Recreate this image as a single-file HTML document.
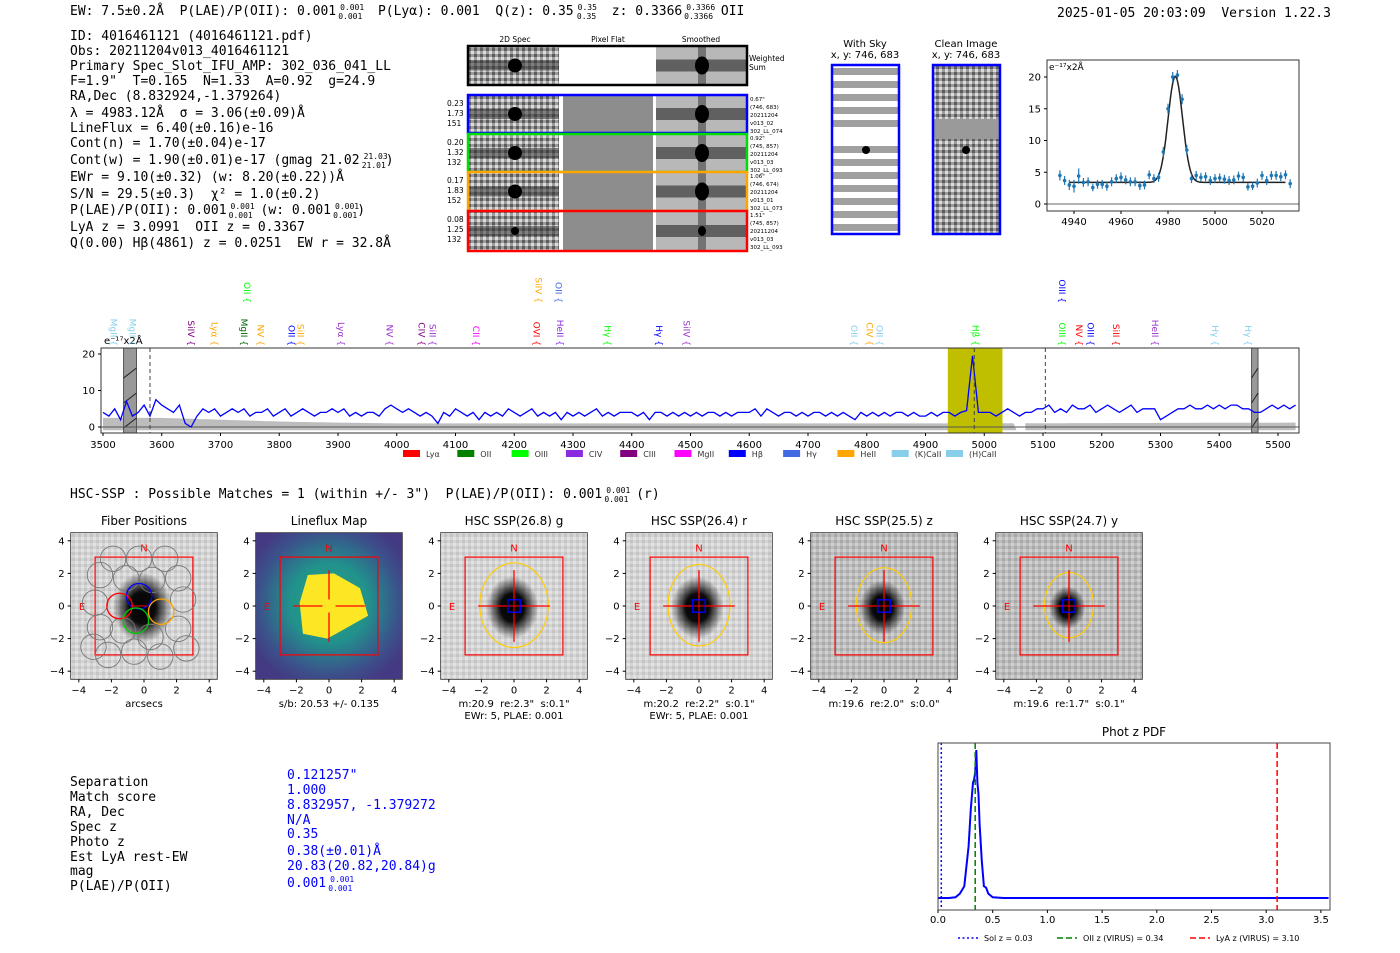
<!DOCTYPE html>
<html><head><meta charset="utf-8">
<style>
html,body{margin:0;padding:0;background:#fff;}
svg{display:block;}
text{white-space:pre;}
.m{font-family:"DejaVu Sans Mono","Liberation Mono",monospace;font-size:13px;fill:#000;}
.s{font-family:"DejaVu Sans","Liberation Sans",sans-serif;}
</style></head>
<body>
<svg id="fig" width="1400" height="953" viewBox="0 0 1400 953" xmlns="http://www.w3.org/2000/svg">
<defs>
<radialGradient id="blob" cx="50%" cy="50%" r="50%"><stop offset="0" stop-color="#000"/><stop offset="0.45" stop-color="#000" stop-opacity="0.95"/><stop offset="1" stop-color="#000" stop-opacity="0"/></radialGradient>
<radialGradient id="lfm" cx="50%" cy="48%" r="60%"><stop offset="0" stop-color="#2fa57f"/><stop offset="0.45" stop-color="#21918c"/><stop offset="0.8" stop-color="#3b528b"/><stop offset="1" stop-color="#443a83"/></radialGradient>
<pattern id="noise" width="6" height="6" patternUnits="userSpaceOnUse"><rect width="6" height="6" fill="#d4d4d4"/><rect x="0" y="0" width="3" height="3" fill="#c4c4c4"/><rect x="3" y="3" width="3" height="3" fill="#e2e2e2"/></pattern>
<pattern id="noise2" width="6" height="6" patternUnits="userSpaceOnUse"><rect width="6" height="6" fill="#bdbdbd"/><rect x="0" y="0" width="3" height="3" fill="#a8a8a8"/><rect x="3" y="3" width="3" height="3" fill="#d0d0d0"/></pattern>
<pattern id="spn" width="6" height="6" patternUnits="userSpaceOnUse"><rect width="6" height="6" fill="#9c9c9c"/><rect x="0" y="0" width="3" height="3" fill="#5c5c5c"/><rect x="3" y="3" width="3" height="3" fill="#dcdcdc"/></pattern>
</defs>

<text class="m" x="70" y="15">EW: 7.5±0.2Å  P(LAE)/P(OII): 0.001<tspan font-size="8" dx="4" dy="-5">0.001</tspan><tspan font-size="8" dx="-26" dy="9">0.001</tspan><tspan dy="-4">  P(Lyα): 0.001  Q(z): 0.35</tspan><tspan font-size="8" dx="4" dy="-5">0.35</tspan><tspan font-size="8" dx="-20" dy="9">0.35</tspan><tspan dy="-4">  z: 0.3366</tspan><tspan font-size="8" dx="4" dy="-5">0.3366</tspan><tspan font-size="8" dx="-31" dy="9">0.3366</tspan><tspan dy="-4"> OII</tspan></text>
<text class="m" x="1057" y="17">2025-01-05 20:03:09  Version 1.22.3</text>

<g class="m">
<text x="70" y="40">ID: 4016461121 (4016461121.pdf)</text>
<text x="70" y="55">Obs: 20211204v013_4016461121</text>
<text x="70" y="70">Primary Spec_Slot_IFU_AMP: 302_036_041_LL</text>
<text x="70" y="85">F=1.9"  T=0.165  N=1.33  A=0.92  g=24.9</text>
<text x="70" y="100">RA,Dec (8.832924,-1.379264)</text>
<text x="70" y="117">λ = 4983.12Å  σ = 3.06(±0.09)Å</text>
<text x="70" y="132">LineFlux = 6.40(±0.16)e-16</text>
<text x="70" y="147">Cont(n) = 1.70(±0.04)e-17</text>
<text x="70" y="164">Cont(w) = 1.90(±0.01)e-17 (gmag 21.02<tspan font-size="8" dx="4" dy="-5">21.03</tspan><tspan font-size="8" dx="-26" dy="9">21.01</tspan><tspan dy="-4">)</tspan></text>
<text x="70" y="181">EWr = 9.10(±0.32) (w: 8.20(±0.22))Å</text>
<text x="70" y="198">S/N = 29.5(±0.3)  χ² = 1.0(±0.2)</text>
<text x="70" y="214">P(LAE)/P(OII): 0.001<tspan font-size="8" dx="4" dy="-5">0.001</tspan><tspan font-size="8" dx="-26" dy="9">0.001</tspan><tspan dy="-4"> (w: 0.001</tspan><tspan font-size="8" dx="4" dy="-5">0.001</tspan><tspan font-size="8" dx="-26" dy="9">0.001</tspan><tspan dy="-4">)</tspan></text>
<text x="70" y="231">LyA z = 3.0991  OII z = 0.3367</text>
<text x="70" y="247">Q(0.00) Hβ(4861) z = 0.0251  EW r = 32.8Å</text>
</g>

<g id="spec2d" class="s">
<text x="515" y="42" font-size="7.5" text-anchor="middle">2D Spec</text>
<text x="608" y="42" font-size="7.5" text-anchor="middle">Pixel Flat</text>
<text x="701" y="42" font-size="7.5" text-anchor="middle">Smoothed</text>
<text x="749" y="61" font-size="7.5">Weighted</text>
<text x="749" y="70" font-size="7.5">Sum</text>
</g>

<g class="s" font-size="10" text-anchor="middle">
<text x="865" y="47">With Sky</text><text x="865" y="58">x, y: 746, 683</text>
<text x="966" y="47">Clean Image</text><text x="966" y="58">x, y: 746, 683</text>
</g>
<g id="withsky"></g>
<g id="clean"></g>

<g id="fit" class="s"></g>
<g id="spec" class="s"></g>

<text class="m" x="70" y="498">HSC-SSP : Possible Matches = 1 (within +/- 3")  P(LAE)/P(OII): 0.001<tspan font-size="8" dx="4" dy="-5">0.001</tspan><tspan font-size="8" dx="-26" dy="9">0.001</tspan><tspan dy="-4"> (r)</tspan></text>

<g id="cut" class="s"></g>

<g class="m">
<text x="70" y="786">Separation</text><text x="70" y="801">Match score</text><text x="70" y="816">RA, Dec</text>
<text x="70" y="831">Spec z</text><text x="70" y="846">Photo z</text><text x="70" y="861">Est LyA rest-EW</text>
<text x="70" y="875">mag</text><text x="70" y="890">P(LAE)/P(OII)</text>
</g>
<g class="m">
<text x="287" y="779" style="fill:#00f">0.121257"</text><text x="287" y="794" style="fill:#00f">1.000</text>
<text x="287" y="809" style="fill:#00f">8.832957, -1.379272</text><text x="287" y="824" style="fill:#00f">N/A</text>
<text x="287" y="838" style="fill:#00f">0.35</text><text x="287" y="855" style="fill:#00f">0.38(±0.01)Å</text>
<text x="287" y="870" style="fill:#00f">20.83(20.82,20.84)g</text>
<text x="287" y="887" style="fill:#00f">0.001<tspan font-size="8" dx="4" dy="-5">0.001</tspan><tspan font-size="8" dx="-26" dy="9">0.001</tspan></text>
</g>

<g id="pdf" class="s"></g>
</svg>

<script>
// ---------- data ----------
const specStart = 3500, specStep = 10;
const specFlux = [4,3,5,2,7,3,4,6,3,7.5, 6,5,4,6,1,0,3,5,4,5, 3,4,5,4,5,3,4,4,5,3, 4,5,3,4,5,4,3,4,4,5,
 4,5,3,4,3,4,4,3,5,6, 5,4,5,4,3,4,3,1,4,3, 5,4,3,4,2,4,3,4,3,5, 4,3,4,5,3,4,3,4,2,4,
 3,4,3,4,5,3,4,3,4,4, 4,3,4,2,4,4,3,4,3,4, 3,4,3,4,4,3,4,3,4,4, 4,5,3,5,4,3,4,4,3,4,
 3,4,4,3,4,3,4,3,2,4, 3,4,3,4,3,4,4,3,4,3, 3,4,3,4,4,3,4,4.5,19.5,4, 4,4,3,4,5,4,3,4,4,5,
 5,6,4,5,4,6,5,5,6,4, 5,6,5,4,5,6,4,5,5,5, 2,3,4,5,5,6,5,5,6,5, 6,5,6,6,5,5,4,4,5,6, 5,6,5,6];
const noiseWave = [3500,3600,3700,3800,3900,4000,4500,5000,5530];
const noiseUpper = [2.5,2.5,2.0,1.5,1.2,1.0,1.0,1.0,1.2];
const specXTicks = [3500,3600,3700,3800,3900,4000,4100,4200,4300,4400,4500,4600,4700,4800,4900,5000,5100,5200,5300,5400,5500];
const specYTicks = [0,10,20];
const lineNames = ["MgII","MgII","SiIV","Lyα","MgII","OII","NV","OII","SiII","Lyα","NV","CIV","SiII","CII","OVI","SiIV","OII","HeII","Hγ","Hγ","SiIV","OII","CIV","OII","Hβ","OIII","OIII","NV","OIII","SiII","HeII","Hγ","Hγ"];
const lineWaves = [3518,3550,3650,3690,3740,3745,3768,3821,3836,3905,3988,4042,4061,4135,4238,4241,4275,4278,4359,4446,4493,4778,4805,4822,4985,5132,5132,5161,5181,5224,5291,5393,5449];
const lineColors = ["#87ceeb","#87ceeb","#800080","#ffa500","#006400","#00ff00","#ffa500","#0000ff","#ffa500","#9932cc","#9932cc","#800080","#9932cc","#ff00ff","#ff0000","#ffa500","#4169e1","#8a2be2","#00ff00","#0000ff","#9932cc","#87ceeb","#ffa500","#87ceeb","#00ff00","#00ff00","#0000ff","#ff0000","#0000ff","#ff0000","#9932cc","#87ceeb","#87ceeb"];
const lineUpper = [0,0,0,0,0,1,0,0,0,0,0,0,0,0,0,1,1,0,0,0,0,0,0,0,0,0,1,0,0,0,0,0,0];
const legendNames = ["Lyα","OII","OIII","CIV","CIII","MgII","Hβ","Hγ","HeII","(K)CaII","(H)CaII"];
const legendColors = ["#ff0000","#008000","#00ff00","#8a2be2","#800080","#ff00ff","#0000ff","#4169e1","#ffa500","#87ceeb","#87ceeb"];

const fitWave = [4934,4936,4938,4940,4942,4944,4946,4948,4950,4952,4954,4956,4958,4960,4962,4964,4966,4968,4970,4972,4974,4976,4978,4980,4982,4984,4986,4988,4990,4992,4994,4996,4998,5000,5002,5004,5006,5008,5010,5012,5014,5016,5018,5020,5022,5024,5026,5028,5030,5032];
const fitFlux = [4.5,3.7,3.0,2.8,4.4,3.4,3.5,2.6,3.1,3.1,2.8,3.5,4.0,4.2,3.8,3.5,3.5,2.9,3.0,4.6,4.0,4.2,8.2,15,20,20.3,16.5,8.5,4.0,4.5,4.2,4.3,3.7,4.0,4.1,3.9,3.7,3.8,4.4,4.2,2.7,2.8,3.3,4.5,3.7,4.5,4.5,4.3,4.6,3.2];
const fitErr = [0.8,0.7,0.8,1.0,1.2,0.7,0.7,0.6,0.7,0.7,0.7,0.7,0.7,0.8,0.7,0.7,0.7,0.7,0.7,0.7,0.7,0.7,0.8,0.8,0.8,0.8,0.8,0.8,0.7,0.7,0.7,0.7,0.7,0.7,0.7,0.7,0.7,0.7,0.7,0.7,0.6,0.6,0.7,0.7,0.7,0.7,0.7,0.7,0.7,0.7];
const fitParams = [4983.12, 3.06, 16.7, 3.4];
const fitXTicks = [4940,4960,4980,5000,5020];
const fitYTicks = [0,5,10,15,20];

const pdfZ = [0,0.1,0.16,0.2,0.24,0.28,0.3,0.32,0.33,0.34,0.35,0.36,0.37,0.38,0.4,0.42,0.44,0.46,0.5,0.6,1.0,2.0,3.0,3.6];
const pdfP = [0,0,0.005,0.03,0.08,0.35,0.6,0.78,0.8,0.85,1.0,0.78,0.7,0.5,0.25,0.08,0.07,0.03,0.005,0,0,0,0,0];
const pdfXTicks = [0.0,0.5,1.0,1.5,2.0,2.5,3.0,3.5];
const pdfMarkerZ = [0.03,0.34,3.10];
const pdfMarkerNames = ["Sol z = 0.03","OII z (VIRUS) = 0.34","LyA z (VIRUS) = 3.10"];

const cutTitles = ["Fiber Positions","Lineflux Map","HSC SSP(26.8) g","HSC SSP(26.4) r","HSC SSP(25.5) z","HSC SSP(24.7) y"];
const cutCaption1 = ["arcsecs","s/b: 20.53 +/- 0.135","m:20.9  re:2.3\"  s:0.1\"","m:20.2  re:2.2\"  s:0.1\"","m:19.6  re:2.0\"  s:0.0\"","m:19.6  re:1.7\"  s:0.1\""];
const cutCaption2 = ["","","EWr: 5, PLAE: 0.001","EWr: 5, PLAE: 0.001","",""];
const ellRx = [0,0,2.1,1.9,1.7,1.5];
const ellRy = [0,0,2.6,2.5,2.3,2.0];
const blobR = [1.8,0,1.6,1.6,1.4,1.1];
const cutTicks = [-4,-2,0,2,4];

const NS = "http://www.w3.org/2000/svg";
function mk(tag, attrs, parent){const e=document.createElementNS(NS,tag);for(const k in attrs)e.setAttribute(k,attrs[k]);parent.appendChild(e);return e;}
function txt(s, attrs, parent){const e=mk("text",attrs,parent);e.textContent=s;return e;}

(function(){
 const g=document.getElementById("spec2d");
 const rows=[{y:46,h:39,c:"#000",flat:"#fff"},{y:95,h:38,c:"#0000ff",flat:"#8d8d8d"},{y:134,h:38,c:"#00dd00",flat:"#8d8d8d"},{y:172,h:39,c:"#ffa500",flat:"#8d8d8d"},{y:211,h:40,c:"#ff0000",flat:"#8d8d8d"}];
 const lab=[[],["0.23","1.73","151"],["0.20","1.32","132"],["0.17","1.83","152"],["0.08","1.25","132"]];
 const rt=[[],["0.67\"","(746, 683)","20211204","v013_02","302_LL_074"],["0.92\"","(745, 857)","20211204","v013_03","302_LL_093"],["1.06\"","(746, 674)","20211204","v013_01","302_LL_073"],["1.51\"","(745, 857)","20211204","v013_03","302_LL_093"]];
 rows.forEach((r,i)=>{
  const a=mk("rect",{x:469,y:r.y,width:90,height:r.h,fill:"url(#spn)"},g);
  
  mk("rect",{x:469,y:r.y+r.h/2-5,width:90,height:10,fill:"#333",opacity:0.55},g);
  mk("circle",{cx:515,cy:r.y+r.h/2,r:i==4?4:7,fill:"#000"},g);
  const f=mk("rect",{x:563,y:r.y,width:90,height:r.h,fill:r.flat},g);
  
  const s=mk("rect",{x:656,y:r.y,width:90,height:r.h,fill:"#b8b8b8"},g);
  
  mk("rect",{x:656,y:r.y+r.h/2-6,width:90,height:12,fill:"#4a4a4a",opacity:0.8},g);
  mk("rect",{x:698,y:r.y,width:8,height:r.h,fill:"#555",opacity:0.7},g);
  mk("ellipse",{cx:702,cy:r.y+r.h/2,rx:i==4?4:7,ry:i==4?5:9,fill:"#000"},g);
  const b=mk("rect",{x:468,y:r.y,width:279,height:r.h,fill:"none",stroke:r.c,"stroke-width":2.5},g);
  
  lab[i].forEach((t,j)=>txt(t,{x:447,y:r.y+11+j*10,"font-size":7.5},g));
  rt[i].forEach((t,j)=>txt(t,{x:750,y:r.y+6+j*8,"font-size":5.5},g));
 });
})();

(function(){
 const w=document.getElementById("withsky");
 mk("rect",{x:832,y:65,width:67,height:169,fill:"#fff"},w);
 for(let k=0;k<13;k++){ if(k==5) continue; mk("rect",{x:832,y:68+k*13,width:67,height:7,fill:"#a0a0a0"},w); }
 mk("circle",{cx:866,cy:150,r:4,fill:"#000"},w);
 mk("rect",{x:832,y:65,width:67,height:169,fill:"none",stroke:"#0000ff","stroke-width":2.5},w);
 const c=document.getElementById("clean");
 mk("rect",{x:933,y:65,width:67,height:169,fill:"url(#spn)"},c);
 mk("rect",{x:933,y:119,width:67,height:20,fill:"#9a9a9a"},c);
 mk("circle",{cx:966,cy:150,r:4,fill:"#000"},c);
 mk("rect",{x:933,y:65,width:67,height:169,fill:"none",stroke:"#0000ff","stroke-width":2.5},c);
})();

(function(){
 const g=document.getElementById("fit");
 const L=1047,R=1299,T=60,B=211;
 const X=w=>1074+(w-4940)*2.35, Y=v=>204-v*6.35;
 mk("line",{x1:L,x2:R,y1:Y(0),y2:Y(0),stroke:"#666","stroke-width":1},g);
 let d="";
 for(let w=4938;w<=5030;w+=0.5){const v=fitParams[3]+fitParams[2]*Math.exp(-0.5*Math.pow((w-fitParams[0])/fitParams[1],2));d+=(d?"L":"M")+X(w).toFixed(1)+","+Y(v).toFixed(1);}
 const fl=mk("path",{d:d,fill:"none",stroke:"#222","stroke-width":1.5},g);
 
 fitWave.forEach((w,i)=>{
  mk("line",{x1:X(w),x2:X(w),y1:Y(fitFlux[i]-fitErr[i]),y2:Y(fitFlux[i]+fitErr[i]),stroke:"#1f77b4","stroke-width":1.2},g);
  const p=mk("circle",{cx:X(w),cy:Y(fitFlux[i]),r:1.8,fill:"#1f77b4"},g);
  
 });
 mk("rect",{x:L,y:T,width:R-L,height:B-T,fill:"none",stroke:"#333","stroke-width":1},g);
 fitXTicks.forEach(t=>{mk("line",{x1:X(t),x2:X(t),y1:B,y2:B+3,stroke:"#000"},g);txt(String(t),{x:X(t),y:B+14,"font-size":10,"text-anchor":"middle"},g);});
 fitYTicks.forEach(t=>{mk("line",{x1:L-3,x2:L,y1:Y(t),y2:Y(t),stroke:"#000"},g);txt(String(t),{x:L-6,y:Y(t)+3.5,"font-size":10,"text-anchor":"end"},g);});
 txt("e⁻¹⁷x2Å",{x:L+2,y:T+10,"font-size":9},g);
})();

(function(){
 const g=document.getElementById("spec");
 const L=101,R=1299,T=348,B=433;
 const X=w=>101+(w-3496.6)*0.5875, Y=v=>427-v*3.65;
 function nu(w){for(let i=0;i<noiseWave.length-1;i++){if(w<=noiseWave[i+1]){const f=(w-noiseWave[i])/(noiseWave[i+1]-noiseWave[i]);return noiseUpper[i]+f*(noiseUpper[i+1]-noiseUpper[i]);}}return noiseUpper[noiseUpper.length-1];}
 const segs=[[3500,5055],[5070,5530]];
 segs.forEach(s=>{let p="M"+X(s[0])+","+Y(-0.9);for(let w=s[0];w<=s[1];w+=10)p+="L"+X(w).toFixed(1)+","+Y(nu(w)).toFixed(1);p+="L"+X(s[1])+","+Y(-0.9)+"Z";
  const n=mk("path",{d:p,fill:"#bdbdbd"},g);
  });
 const yb=mk("rect",{x:X(4938),y:T,width:X(5031)-X(4938),height:B-T,fill:"#bfbf00"},g);
 
 [[3535,3557],[5455,5466]].forEach(b=>{const r=mk("rect",{x:X(b[0]),y:T,width:X(b[1])-X(b[0]),height:B-T,fill:"#999",stroke:"#555"},g);
  
  for(let k=0;k<3;k++)mk("line",{x1:X(b[0]),x2:X(b[1]),y1:T+30+k*25,y2:T+20+k*25,stroke:"#222"},g);});
 mk("line",{x1:L,x2:R,y1:Y(0),y2:Y(0),stroke:"#555","stroke-width":1},g);
 let d="";specFlux.forEach((v,i)=>{d+=(i?"L":"M")+X(specStart+i*specStep).toFixed(1)+","+Y(v).toFixed(1);});
 const ln=mk("path",{d:d,fill:"none",stroke:"#0000ff","stroke-width":1.3},g);
 
 [3580,4983,5104].forEach(w=>mk("line",{x1:X(w),x2:X(w),y1:T,y2:B,stroke:"#444","stroke-dasharray":"4,3","stroke-width":1},g));
 mk("rect",{x:L,y:T,width:R-L,height:B-T,fill:"none",stroke:"#333","stroke-width":1},g);
 specXTicks.forEach(t=>{mk("line",{x1:X(t),x2:X(t),y1:B,y2:B+3,stroke:"#000"},g);txt(String(t),{x:X(t),y:B+15,"font-size":10,"text-anchor":"middle"},g);});
 specYTicks.forEach(t=>{mk("line",{x1:L-3,x2:L,y1:Y(t),y2:Y(t),stroke:"#000"},g);txt(String(t),{x:L-6,y:Y(t)+3.5,"font-size":10,"text-anchor":"end"},g);});
 txt("e⁻¹⁷x2Å",{x:L+3,y:T-4,"font-size":10},g);
 lineNames.forEach((n,i)=>{
  const x=X(lineWaves[i]), yb=lineUpper[i]?303:346;
  const t=txt(n+" {",{x:x,y:yb,"font-size":9,fill:lineColors[i],"text-anchor":"end",transform:`rotate(90 ${x} ${yb}) translate(0 3)`},g);
  
 });
 legendNames.forEach((n,i)=>{
  const x=403+i*54.3;
  const r=mk("rect",{x:x,y:450,width:17,height:7,fill:legendColors[i]},g);
  
  const t=txt(n,{x:x+23,y:457,"font-size":8,fill:"#333"},g);
  
 });
})();

(function(){
 const g=document.getElementById("cut");
 const fib=[[-1.9,2.9],[-0.3,2.9],[1.3,2.9],[-2.7,1.9],[-1.1,1.7],[0.5,1.6],[2.1,1.7],[-3.0,0.2],[2.4,0.4],[-2.7,-1.3],[-1.3,-1.5],[0.4,-1.9],[2.1,-1.4],[-2.2,-3.0],[-0.6,-2.8],[1.0,-3.1],[2.6,-2.6],[-3.1,-2.5]];
 const col=[[-0.3,0.6,"#0000ff"],[-1.5,0,"#ff0000"],[-0.5,-0.9,"#00cc00"],[1.05,-0.35,"#ffa500"]];
 cutTitles.forEach((tt,i)=>{
  const cx=144+i*185,cy=606,s=16.3;
  const P=v=>cx+v*s, Q=v=>cy-v*s;
  const pan=mk("g",{},g);
  
  
  if(i==1){
   mk("rect",{x:P(-4.5),y:Q(4.5),width:9*s,height:9*s,fill:"url(#lfm)"},pan);
   mk("polygon",{points:[[-1.3,1.9],[0.3,2.0],[1.9,1.1],[2.4,-0.6],[-0.1,-2.0],[-1.6,-1.7],[-1.8,0.2]].map(p=>P(p[0])+","+Q(p[1])).join(" "),fill:"#fde725"},pan);
  } else {
   mk("rect",{x:P(-4.5),y:Q(4.5),width:9*s,height:9*s,fill:i>=4?"url(#noise2)":"url(#noise)"},pan);
   mk("ellipse",{cx:P(-0.1),cy:Q(-0.1),rx:blobR[i]*s,ry:blobR[i]*1.2*s,fill:"url(#blob)"},pan);
  }
  mk("rect",{x:P(-4.5),y:Q(4.5),width:9*s,height:9*s,fill:"none",stroke:"#333","stroke-width":0.8},pan);
  mk("rect",{x:P(-3),y:Q(3),width:6*s,height:6*s,fill:"none",stroke:"#ff0000","stroke-width":1.2},pan);
  txt("N",{x:P(0),y:Q(3.6)+4,"font-size":10,fill:"#ff0000","text-anchor":"middle"},pan);
  txt("E",{x:P(-3.8),y:Q(0)+4,"font-size":10,fill:"#ff0000","text-anchor":"middle"},pan);
  if(i==0){
   fib.forEach(f=>mk("circle",{cx:P(f[0]),cy:Q(f[1]),r:0.78*s,fill:"none",stroke:"#777","stroke-width":0.9},pan));
   col.forEach(f=>mk("circle",{cx:P(f[0]),cy:Q(f[1]),r:0.78*s,fill:"none",stroke:f[2],"stroke-width":1.3},pan));
   mk("line",{x1:P(-0.8),x2:P(0.2),y1:Q(0),y2:Q(0),stroke:"#ff0000"},pan);
  } else {
   if(i>=2) mk("ellipse",{cx:P(0),cy:Q(0.05),rx:ellRx[i]*s,ry:ellRy[i]*s,fill:"none",stroke:"#ffcc00","stroke-width":1.2},pan);
   mk("line",{x1:P(-2.2),x2:P(-0.4),y1:Q(0),y2:Q(0),stroke:"#ff0000","stroke-width":1.3},pan);
   mk("line",{x1:P(0.4),x2:P(2.2),y1:Q(0),y2:Q(0),stroke:"#ff0000","stroke-width":1.3},pan);
   mk("line",{x1:P(0),x2:P(0),y1:Q(2.2),y2:Q(0.4),stroke:"#ff0000","stroke-width":1.3},pan);
   mk("line",{x1:P(0),x2:P(0),y1:Q(-0.4),y2:Q(-2.2),stroke:"#ff0000","stroke-width":1.3},pan);
   if(i>=2){mk("line",{x1:P(-0.4),x2:P(0.4),y1:Q(0),y2:Q(0),stroke:"#ff0000"},pan);mk("line",{x1:P(0),x2:P(0),y1:Q(0.4),y2:Q(-0.4),stroke:"#ff0000"},pan);
    mk("rect",{x:P(-0.38),y:Q(0.38),width:0.76*s,height:0.76*s,fill:"none",stroke:"#0000ff","stroke-width":1.4},pan);}
  }
  cutTicks.forEach(t=>{
   mk("line",{x1:P(t),x2:P(t),y1:Q(-4.5),y2:Q(-4.5)+3,stroke:"#000"},pan);
   txt(t<0?"−"+(-t):String(t),{x:P(t),y:Q(-4.5)+14,"font-size":10,"text-anchor":"middle"},pan);
   mk("line",{x1:P(-4.5)-3,x2:P(-4.5),y1:Q(t),y2:Q(t),stroke:"#000"},pan);
   txt(t<0?"−"+(-t):String(t),{x:P(-4.5)-6,y:Q(t)+3.5,"font-size":10,"text-anchor":"end"},pan);
  });
  const ti=txt(tt,{x:cx,y:525,"font-size":12,"text-anchor":"middle"},pan);
  
  txt(cutCaption1[i],{x:cx,y:707,"font-size":10,"text-anchor":"middle"},pan);
  if(cutCaption2[i]) txt(cutCaption2[i],{x:cx,y:719,"font-size":10,"text-anchor":"middle"},pan);
 });
})();

(function(){
 const g=document.getElementById("pdf");
 const L=938,R=1330,T=743,B=910;
 const X=z=>938+z*109.4, Y=p=>898-p*148;
 txt("Phot z PDF",{x:(L+R)/2,y:736,"font-size":12,"text-anchor":"middle"},g);
 let d="";pdfZ.forEach((z,i)=>{d+=(i?"L":"M")+X(Math.min(z,3.57)).toFixed(1)+","+Y(pdfP[i]).toFixed(1);});
 const c=mk("path",{d:d,fill:"none",stroke:"#0000ff","stroke-width":2},g);
 
 const sty=[{s:"#0000ff",da:"2,2.5"},{s:"#008000",da:"6,3"},{s:"#ff0000",da:"6,3"}];
 pdfMarkerZ.forEach((z,i)=>{const l=mk("line",{x1:X(z),x2:X(z),y1:T,y2:B,stroke:sty[i].s,"stroke-dasharray":sty[i].da,"stroke-width":1.5},g);
  });
 mk("rect",{x:L,y:T,width:R-L,height:B-T,fill:"none",stroke:"#444","stroke-width":1},g);
 pdfXTicks.forEach(t=>{mk("line",{x1:X(t),x2:X(t),y1:B,y2:B+3,stroke:"#000"},g);txt(t.toFixed(1),{x:X(t),y:B+13,"font-size":10,"text-anchor":"middle"},g);});
 const lx=[958,1057,1190];
 pdfMarkerNames.forEach((n,i)=>{
  mk("line",{x1:lx[i],x2:lx[i]+20,y1:938,y2:938,stroke:sty[i].s,"stroke-dasharray":sty[i].da,"stroke-width":1.5},g);
  const t=txt(n,{x:lx[i]+26,y:941,"font-size":8},g);
  
 });
})();
</script>
</body></html>
